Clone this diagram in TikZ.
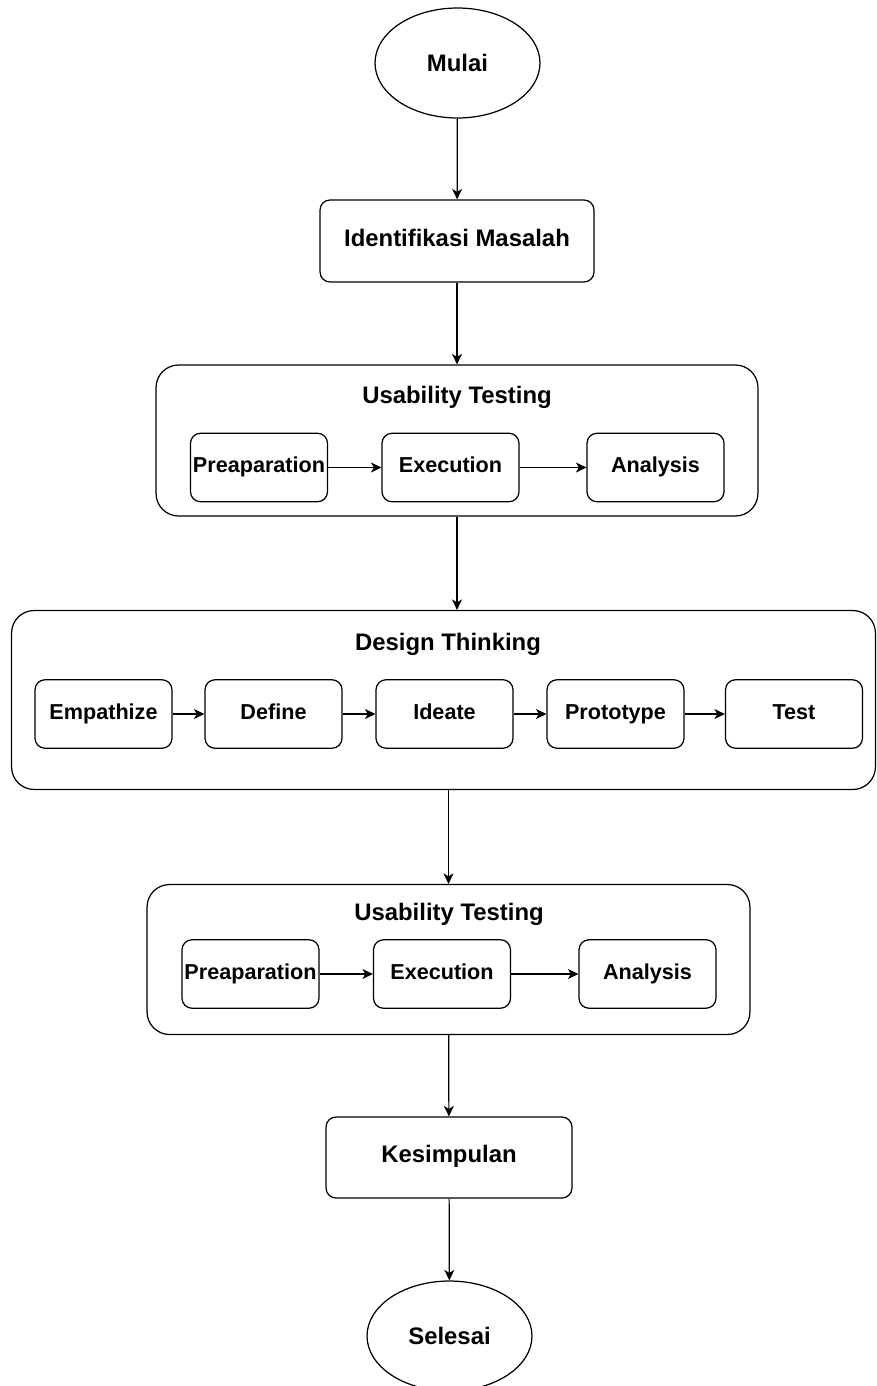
\documentclass[tikz,border=0pt]{standalone}
\usepackage{fontspec}
\setmainfont{Liberation Sans}
\usepackage{tikz}
\usetikzlibrary{shapes.geometric,arrows.meta,positioning}
\tikzset{
  terminal/.style={
    ellipse,
    draw,
    line width=0.7pt,
    minimum width=3.3cm,
    minimum height=2.2cm,
    font=\fontsize{13.6}{16}\selectfont\bfseries
  },
  process/.style={
    draw,
    line width=0.7pt,
    rounded corners=0.2cm,
    text height=1.6ex,
    text depth=0.5ex,
    font=\fontsize{13.6}{16}\selectfont\bfseries
  },
  stepbox/.style={
    draw,
    line width=0.7pt,
    rounded corners=0.2cm,
    inner sep=0pt,
    minimum width=2.74cm,
    minimum height=1.37cm,
    text height=1.6ex,
    text depth=0.5ex,
    font=\fontsize{12.3}{14}\selectfont\bfseries
  },
  groupbox/.style={
    draw,
    line width=0.7pt,
    rounded corners=0.45cm
  },
  grouptitle/.style={
    text height=1.6ex,
    text depth=0.5ex,
    font=\fontsize{13.6}{16}\selectfont\bfseries
  },
  flow/.style={
    line width=0.7pt,
    -{Stealth[length=2.1mm,width=2mm,inset=0.6mm]}
  }
}
\begin{document}
\begin{tikzpicture}[x=0.02cm,y=-0.02cm]
  \useasboundingbox (0,0) rectangle (876,1386);

  % start
  \node[terminal] (mulai) at (457.5,63) {Mulai};
  \node[process, minimum width=5.48cm, minimum height=1.64cm] (identifikasi) at (457,241) {Identifikasi Masalah};

  % usability testing (awal)
  \node[groupbox, minimum width=12.04cm, minimum height=3.02cm] (ut1) at (457,440.5) {};
  \node[grouptitle] (ut1title) at (457,398) {Usability Testing};
  \node[stepbox] (prep1) at (259,467.5) {Preaparation};
  \node[stepbox] (exec1) at (450.5,467.5) {Execution};
  \node[stepbox] (anal1) at (655.5,467.5) {Analysis};

  % design thinking
  \node[groupbox, minimum width=17.28cm, minimum height=3.58cm] (dt) at (443.5,700) {};
  \node[grouptitle] (dttitle) at (448,645) {Design Thinking};
  \node[stepbox] (emp) at (103.5,714) {Empathize};
  \node[stepbox] (def) at (273.5,714) {Define};
  \node[stepbox] (ide) at (444.5,714) {Ideate};
  \node[stepbox] (proto) at (615.5,714) {Prototype};
  \node[stepbox] (test) at (794,714) {Test};

  % usability testing (akhir)
  \node[groupbox, minimum width=12.06cm, minimum height=3.0cm] (ut2) at (448.5,959.5) {};
  \node[grouptitle] (ut2title) at (449,915) {Usability Testing};
  \node[stepbox] (prep2) at (250.5,974) {Preaparation};
  \node[stepbox] (exec2) at (442,974) {Execution};
  \node[stepbox] (anal2) at (647.5,974) {Analysis};

  % end
  \node[process, minimum width=4.92cm, minimum height=1.62cm] (kesimpulan) at (449,1157.5) {Kesimpulan};
  \node[terminal] (selesai) at (449.5,1336) {Selesai};

  \draw[flow] (mulai) -- (identifikasi);
  \draw[flow] (identifikasi) -- (ut1);
  \draw[flow] (prep1) -- (exec1);
  \draw[flow] (exec1) -- (anal1);
  \draw[flow] (ut1.south) -- (ut1.south |- dt.north);
  \draw[flow] (emp) -- (def);
  \draw[flow] (def) -- (ide);
  \draw[flow] (ide) -- (proto);
  \draw[flow] (proto) -- (test);
  \draw[flow] (ut2.north |- dt.south) -- (ut2.north);
  \draw[flow] (prep2) -- (exec2);
  \draw[flow] (exec2) -- (anal2);
  \draw[flow] (ut2) -- (kesimpulan);
  \draw[flow] (kesimpulan) -- (selesai);
\end{tikzpicture}
\end{document}
